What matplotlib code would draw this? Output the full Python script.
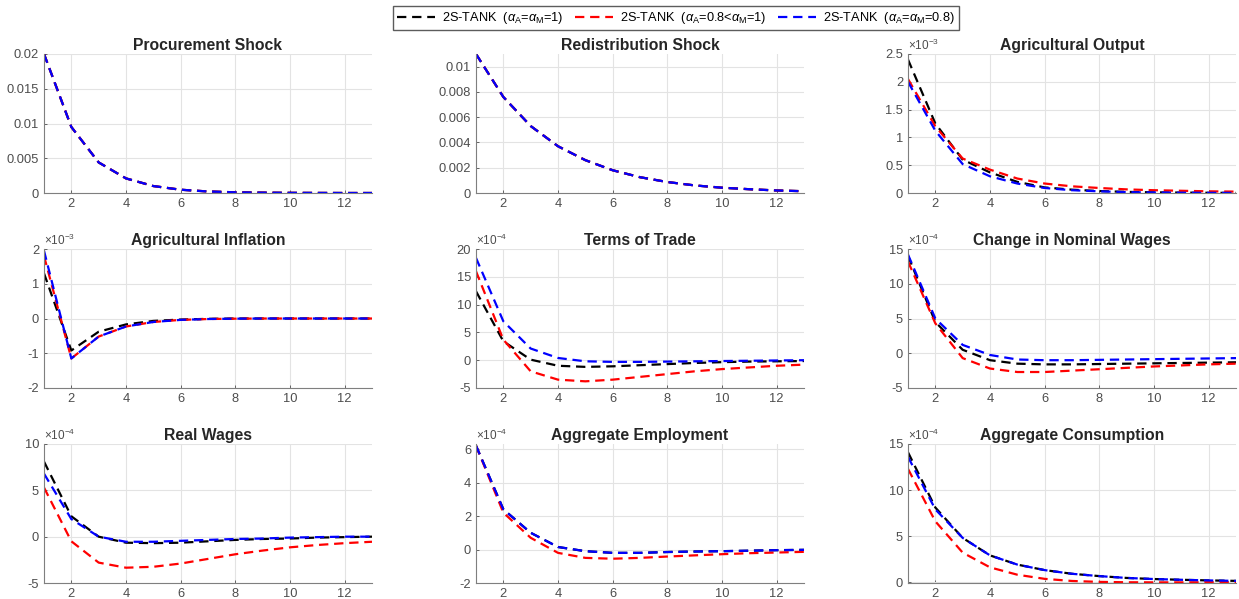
import matplotlib
matplotlib.use("Agg")
import matplotlib.pyplot as plt
from matplotlib.ticker import ScalarFormatter

plt.rcParams["font.family"] = ["Liberation Sans", "DejaVu Sans"]
plt.rcParams["mathtext.fontset"] = "custom"
plt.rcParams["mathtext.rm"] = "Liberation Sans"
plt.rcParams["mathtext.it"] = "Liberation Sans:italic"
plt.rcParams["axes.unicode_minus"] = False

periods = list(range(1, 14))
labels = [
    r"2S-TANK  ($\it{\alpha}_\mathrm{A}$=$\it{\alpha}_\mathrm{M}$=1)",
    r"2S-TANK  ($\it{\alpha}_\mathrm{A}$=0.8<$\it{\alpha}_\mathrm{M}$=1)",
    r"2S-TANK  ($\it{\alpha}_\mathrm{A}$=$\it{\alpha}_\mathrm{M}$=0.8)",
]
colors = ["black", "red", "blue"]

# values in the units shown on each axis (see scale exponents below)
procurement = [0.02, 0.0095, 0.0044, 0.0021, 0.0010, 0.00047, 0.00022, 0.0001,
               0.00005, 0.00002, 0.00001, 0.0, 0.0]
redistribution = [0.011, 0.0076, 0.0053, 0.0037, 0.0026, 0.0018, 0.00125, 0.00087,
                  0.0006, 0.00042, 0.0003, 0.0002, 0.00014]

ag_output_k = [2.4, 1.25, 0.6, 0.37, 0.2, 0.1, 0.06, 0.035, 0.02, 0.012, 0.007, 0.004, 0.002]
ag_output_r = [2.05, 1.2, 0.62, 0.42, 0.26, 0.17, 0.12, 0.09, 0.065, 0.05, 0.04, 0.03, 0.025]
ag_output_b = [2.0, 1.12, 0.52, 0.3, 0.17, 0.09, 0.05, 0.03, 0.015, 0.01, 0.005, 0.003, 0.002]

ag_infl_k = [1.3, -0.92, -0.38, -0.17, -0.07, -0.03, -0.01, 0.0, 0.0, 0.0, 0.0, 0.0, 0.0]
ag_infl_r = [1.8, -1.15, -0.52, -0.23, -0.1, -0.04, -0.015, -0.005, 0.0, 0.0, 0.0, 0.0, 0.0]
ag_infl_b = [1.95, -1.15, -0.52, -0.23, -0.1, -0.04, -0.015, -0.005, 0.0, 0.0, 0.0, 0.0, 0.0]

tot_k = [12.4, 3.4, 0.1, -1.0, -1.2, -1.1, -0.9, -0.7, -0.5, -0.35, -0.25, -0.2, -0.15]
tot_r = [16.0, 3.7, -2.0, -3.5, -3.8, -3.5, -3.0, -2.5, -2.0, -1.6, -1.3, -1.0, -0.8]
tot_b = [18.4, 7.0, 2.1, 0.4, -0.2, -0.3, -0.3, -0.25, -0.2, -0.15, -0.1, -0.05, 0.0]

nom_w_k = [14.0, 4.5, 0.5, -1.0, -1.5, -1.6, -1.6, -1.55, -1.5, -1.45, -1.4, -1.35, -1.3]
nom_w_r = [13.2, 4.3, -0.7, -2.2, -2.7, -2.7, -2.5, -2.3, -2.1, -1.9, -1.75, -1.6, -1.5]
nom_w_b = [14.2, 5.0, 1.2, -0.25, -0.9, -1.0, -1.0, -0.95, -0.9, -0.85, -0.8, -0.75, -0.7]

real_w_k = [8.1, 2.2, 0.0, -0.65, -0.7, -0.65, -0.5, -0.35, -0.25, -0.2, -0.1, -0.05, 0.0]
real_w_r = [5.3, -0.5, -2.8, -3.35, -3.25, -2.9, -2.4, -1.9, -1.5, -1.15, -0.9, -0.7, -0.55]
real_w_b = [6.8, 1.9, 0.0, -0.55, -0.55, -0.45, -0.35, -0.25, -0.2, -0.1, -0.05, 0.0, 0.0]

employ_k = [6.2, 2.4, 1.0, 0.15, -0.1, -0.2, -0.2, -0.15, -0.12, -0.1, -0.07, -0.04, -0.02]
employ_r = [6.2, 2.2, 0.7, -0.2, -0.5, -0.55, -0.5, -0.42, -0.35, -0.28, -0.22, -0.18, -0.14]
employ_b = [6.2, 2.4, 1.0, 0.15, -0.1, -0.2, -0.2, -0.15, -0.12, -0.1, -0.07, -0.04, -0.02]

cons_k = [14.1, 8.1, 4.8, 2.9, 1.9, 1.3, 0.9, 0.65, 0.45, 0.33, 0.25, 0.18, 0.13]
cons_r = [12.3, 6.6, 3.2, 1.6, 0.8, 0.35, 0.12, 0.02, -0.02, -0.03, -0.03, -0.02, -0.01]
cons_b = [13.6, 7.9, 4.8, 2.9, 1.9, 1.3, 0.9, 0.65, 0.45, 0.33, 0.25, 0.18, 0.13]

# (title, series, exponent, ylim, ytick step)
panels = [
    ("Procurement Shock", [procurement] * 3, 0, (0, 0.02), 0.005),
    ("Redistribution Shock", [redistribution] * 3, 0, (0, 0.011), 0.002),
    ("Agricultural Output", [ag_output_k, ag_output_r, ag_output_b], -3, (0, 2.5), 0.5),
    ("Agricultural Inflation", [ag_infl_k, ag_infl_r, ag_infl_b], -3, (-2, 2), 1),
    ("Terms of Trade", [tot_k, tot_r, tot_b], -4, (-5, 20), 5),
    ("Change in Nominal Wages", [nom_w_k, nom_w_r, nom_w_b], -4, (-5, 15), 5),
    ("Real Wages", [real_w_k, real_w_r, real_w_b], -4, (-5, 10), 5),
    ("Aggregate Employment", [employ_k, employ_r, employ_b], -4, (-2, 6.3), 2),
    ("Aggregate Consumption", [cons_k, cons_r, cons_b], -4, (-0.1, 15), 5),
]


class TrimFormatter(ScalarFormatter):
    """MATLAB-like tick labels: shortest form, plain hyphen."""

    def __call__(self, x, pos=None):
        v = x / 10.0 ** self.orderOfMagnitude
        s = "%g" % round(v, 6)
        return "0" if s in ("-0", "0") else s


fig = plt.figure(figsize=(12.39, 5.99), dpi=100)
lefts = [44, 476, 908]
bottoms = [193, 388, 583]
W, H = 1239, 599
ax_w, ax_h = 328, 139

tick_color = "#4d4d4d"
handles = []
for i, (title, series, expo, ylim, step) in enumerate(panels):
    r, c = divmod(i, 3)
    ax = fig.add_axes([lefts[c] / W, 1 - bottoms[r] / H, ax_w / W, ax_h / H])
    scale = 10.0 ** expo
    for vals, col, lab in zip(series, colors, labels):
        (ln,) = ax.plot(periods, [v * scale for v in vals], color=col, lw=1.6,
                        linestyle=(0, (4.2, 2.6)), label=lab)
        if i == 2:
            handles.append(ln)
    ax.set_xlim(1, 13)
    ax.set_xticks(range(2, 13, 2))
    lo, hi = ylim
    ax.set_ylim(lo * scale, hi * scale)
    first = step * -(-lo // step) if lo < 0 else 0
    ticks = []
    t = first
    while t <= hi + 1e-9:
        ticks.append(t * scale)
        t += step
    ax.set_yticks(ticks)
    fmt = TrimFormatter(useMathText=True)
    if expo != 0:
        fmt.set_powerlimits((expo, expo))
    else:
        fmt.set_scientific(False)
        fmt.set_useOffset(False)
    ax.yaxis.set_major_formatter(fmt)
    ax.yaxis.get_offset_text().set_fontsize(8.5)
    ax.yaxis.get_offset_text().set_color(tick_color)
    ax.set_title(title, fontsize=11.3, fontweight="bold", color="#262626", pad=3)
    ax.grid(True, color="#e3e3e3", linewidth=0.8)
    ax.set_axisbelow(True)
    for s in ("top", "right"):
        ax.spines[s].set_visible(False)
    for s in ("left", "bottom"):
        ax.spines[s].set_color("#7f7f7f")
        ax.spines[s].set_linewidth(0.8)
    ax.tick_params(direction="in", length=2.5, width=0.6, colors=tick_color,
                   labelsize=9.3, pad=3.5)

fig.legend(handles=handles, labels=labels, loc="upper center",
           bbox_to_anchor=(676 / W, 0.994), ncol=3, fontsize=9.2, frameon=True,
           fancybox=False, edgecolor="#333333", handlelength=2.95,
           columnspacing=0.95, handletextpad=0.55, borderpad=0.3,
           borderaxespad=0.2)

fig.savefig("out.png", dpi=100)
